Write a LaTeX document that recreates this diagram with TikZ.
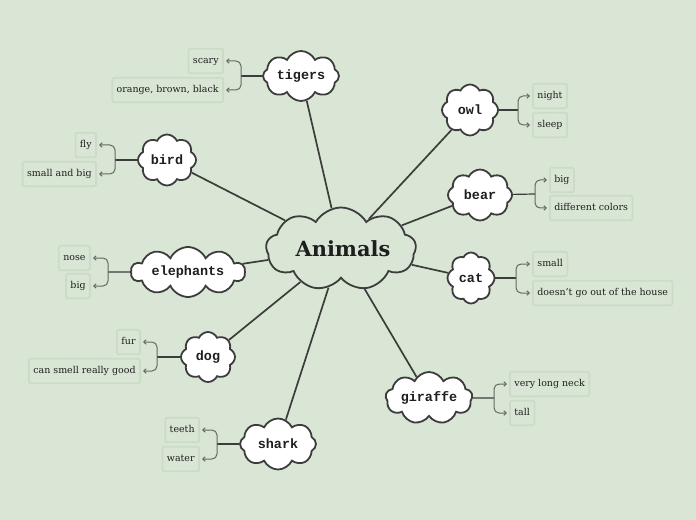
\documentclass[tikz,border=0pt]{standalone}
\usepackage{fontspec}
\setmainfont{DejaVu Serif}
\newfontfamily\cloudfont{Liberation Mono}
\usetikzlibrary{shapes.symbols,arrows.meta}
\definecolor{bg}{RGB}{218,230,213}
\definecolor{leafborder}{RGB}{203,220,198}
\definecolor{ink}{RGB}{60,60,60}
\definecolor{txt}{RGB}{30,30,30}
\definecolor{branchc}{RGB}{100,104,100}
\tikzset{
  cloudnode/.style={cloud, cloud puffs=8, cloud puff arc=130, cloud ignores aspect,
    draw=ink, line width=1.8bp, fill=white, text=txt, inner sep=0pt,
    font=\cloudfont\bfseries\fontsize{13.5}{13.5}\selectfont},
  leaf/.style={draw=leafborder, line width=1.8bp, rounded corners=2bp, fill=bg,
    text=txt, font=\fontsize{9.5}{10}\selectfont, minimum height=24.5bp,
    inner xsep=4.5bp, inner ysep=0pt, text height=7bp, text depth=2.5bp},
  spoke/.style={draw=ink, line width=1.7bp},
  stem/.style={draw=ink, line width=1.2bp},
  branch/.style={draw=branchc, line width=1bp, rounded corners=5bp,
    -{Straight Barb[length=2.5bp,width=4.5bp]}, shorten >=2bp},
}
\begin{document}
\begin{tikzpicture}[x=1bp,y=-1bp]
\useasboundingbox[fill=bg] (0,0) rectangle (696,520);

% central
\node[cloudnode, cloud puffs=9, cloud puff arc=120, fill=bg, minimum width=150bp, minimum height=83bp,
  font=\bfseries\fontsize{21}{21}\selectfont] (animals) at (341,249) {\raisebox{-2bp}{\hspace{4bp}Animals}};

% clouds
\node[cloudnode, minimum width=76bp, minimum height=50bp] (tigers) at (301,76) {tigers};
\node[cloudnode, minimum width=56bp, minimum height=51bp] (owl) at (470,110) {owl};
\node[cloudnode, minimum width=58bp, minimum height=51bp] (bird) at (167,160) {bird};
\node[cloudnode, minimum width=64bp, minimum height=51bp] (bear) at (480,195) {bear};
\node[cloudnode, cloud puffs=10, minimum width=114bp, minimum height=50bp] (elephants) at (188,272) {elephants};
\node[cloudnode, minimum width=47bp, minimum height=51bp] (cat) at (471,278) {cat};
\node[cloudnode, minimum width=54bp, minimum height=50bp] (dog) at (208,357) {dog};
\node[cloudnode, cloud puffs=9, minimum width=87bp, minimum height=52bp] (giraffe) at (429,398) {giraffe};
\node[cloudnode, minimum width=76bp, minimum height=51bp] (shark) at (278,444) {shark};

% spokes
\foreach \c in {tigers,owl,bird,bear,elephants,cat,dog,giraffe,shark}
  \draw[spoke] (animals) -- (\c);

% leaves left
\node[leaf, anchor=east] (scary) at (224,61) {scary};
\node[leaf, anchor=east] (orange) at (224,90) {orange, brown, black};
\node[leaf, anchor=east] (fly) at (97,145) {fly};
\node[leaf, anchor=east] (smallbig) at (97,174) {small and big};
\node[leaf, anchor=east] (nose) at (91,258) {nose};
\node[leaf, anchor=east] (bigel) at (91,286) {big};
\node[leaf, anchor=east] (fur) at (141,342) {fur};
\node[leaf, anchor=east] (smell) at (141,371) {can smell really good};
\node[leaf, anchor=east] (teeth) at (200,430) {teeth};
\node[leaf, anchor=east] (water) at (200,459) {water};
% leaves right
\node[leaf, anchor=west] (night) at (532,96) {night};
\node[leaf, anchor=west] (sleep) at (532,125) {sleep};
\node[leaf, anchor=west] (bigbear) at (549,180) {big};
\node[leaf, anchor=west] (colors) at (549,208) {different colors};
\node[leaf, anchor=west] (small) at (532,264) {small};
\node[leaf, anchor=west] (house) at (532,293) {doesn't go out of the house};
\node[leaf, anchor=west] (neck) at (509,384) {very long neck};
\node[leaf, anchor=west] (tall) at (509,413) {tall};

% junctions
\coordinate (tj) at (241,76);
\coordinate (bj) at (115,160);
\coordinate (ej) at (108,272);
\coordinate (dj) at (157,357);
\coordinate (sj) at (217,444);
\coordinate (oj) at (518,110);
\coordinate (brj) at (535,194);
\coordinate (cj) at (516,278);
\coordinate (gj) at (494,398);

% stems
\draw[stem] (tigers) -- (tj);
\draw[stem] (bird) -- (bj);
\draw[stem] (elephants) -- (ej);
\draw[stem] (dog) -- (dj);
\draw[stem] (shark) -- (sj);
\draw[stem] (owl) -- (oj);
\draw[stem] (bear) -- (brj);
\draw[stem] (cat) -- (cj);
\draw[stem] (giraffe) -- (gj);

% branches
\draw[branch] (tj) |- (scary);
\draw[branch] (tj) |- (orange);
\draw[branch] (bj) |- (fly);
\draw[branch] (bj) |- (smallbig);
\draw[branch] (ej) |- (nose);
\draw[branch] (ej) |- (bigel);
\draw[branch] (dj) |- (fur);
\draw[branch] (dj) |- (smell);
\draw[branch] (sj) |- (teeth);
\draw[branch] (sj) |- (water);
\draw[branch] (oj) |- (night);
\draw[branch] (oj) |- (sleep);
\draw[branch] (brj) |- (bigbear);
\draw[branch] (brj) |- (colors);
\draw[branch] (cj) |- (small);
\draw[branch] (cj) |- (house);
\draw[branch] (gj) |- (neck);
\draw[branch] (gj) |- (tall);
\end{tikzpicture}
\end{document}
